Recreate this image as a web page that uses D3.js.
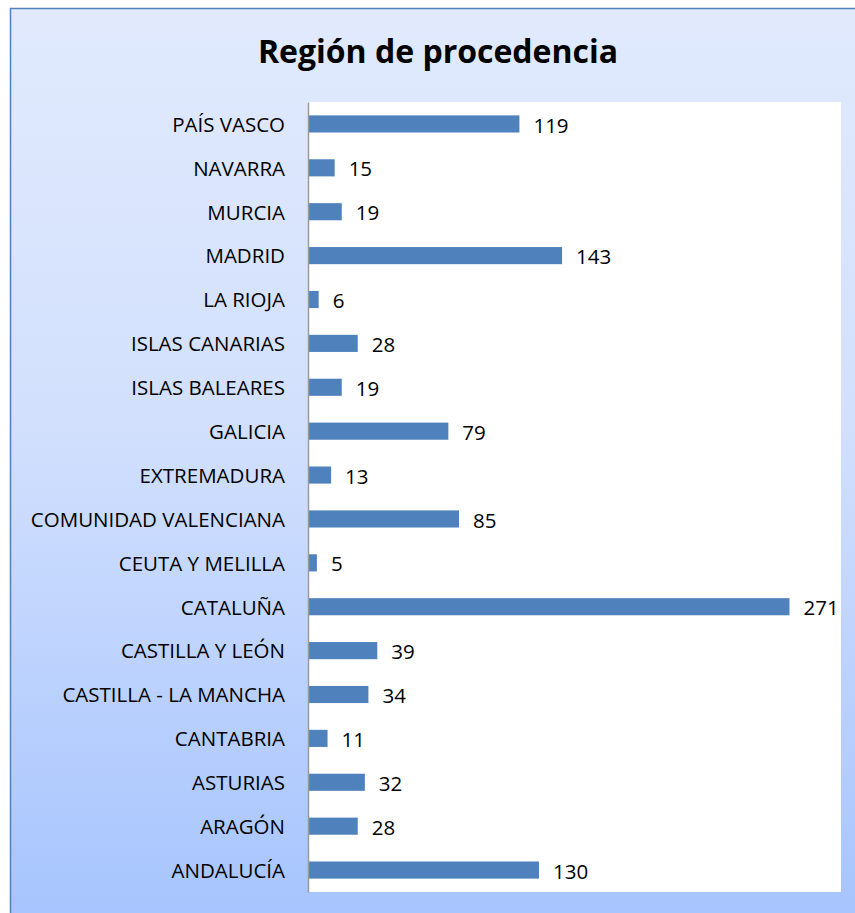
<!DOCTYPE html>
<html>
<head>
<meta charset="utf-8">
<script src="https://cdn.jsdelivr.net/npm/d3@7"></script>
<style>
  body { margin: 0; background: #fff; }
  text { font-family: "Open Sans", "Noto Sans", sans-serif; }
</style>
</head>
<body>
<div id="chart"></div>
<script>
// data, top to bottom as drawn
const regions = ["PAÍS VASCO", "NAVARRA", "MURCIA", "MADRID", "LA RIOJA", "ISLAS CANARIAS",
  "ISLAS BALEARES", "GALICIA", "EXTREMADURA", "COMUNIDAD VALENCIANA", "CEUTA Y MELILLA",
  "CATALUÑA", "CASTILLA Y LEÓN", "CASTILLA - LA MANCHA", "CANTABRIA", "ASTURIAS", "ARAGÓN", "ANDALUCÍA"]
const counts = [119, 15, 19, 143, 6, 28, 19, 79, 13, 85, 5, 271, 39, 34, 11, 32, 28, 130]
const xMax = 300

const WD = 855, HT = 913
const margin = { left: 308, right: 14, top: 102, bottom: 21 }
const width = WD - margin.left - margin.right
const height = HT - margin.top - margin.bottom

var svg = d3.select("#chart")
  .append("svg")
    .attr("width", WD)
    .attr("height", HT)

// background gradient
var grad = svg.append("defs").append("linearGradient")
  .attr("id", "bg").attr("x1", 0).attr("y1", 0).attr("x2", 0).attr("y2", 1)
grad.append("stop").attr("offset", "0%").attr("stop-color", "#e1eafd")
grad.append("stop").attr("offset", "45%").attr("stop-color", "#d2e0fd")
grad.append("stop").attr("offset", "100%").attr("stop-color", "#a6c4fe")

svg.append("rect")
  .attr("x", 10.5).attr("y", 8.5)
  .attr("width", WD).attr("height", HT)
  .attr("fill", "url(#bg)")
  .attr("stroke", "#4f81bd")
  .attr("stroke-width", 1.5)

// title
svg.append("text")
  .attr("x", 438)
  .attr("y", 63)
  .attr("text-anchor", "middle")
  .attr("font-size", "32px")
  .attr("font-weight", "bold")
  .attr("fill", "#000")
  .text("Región de procedencia")

var g = svg.append("g")
  .attr("transform", "translate(" + margin.left + "," + margin.top + ")")

// plot area
g.append("rect")
  .attr("width", width)
  .attr("height", height)
  .attr("fill", "#fff")

const xs = d3.scaleLinear().domain([0, xMax]).range([0, width])
const ys = d3.scaleBand()
  .domain(regions)
  .range([0, height])
  .paddingInner(0.61)
  .paddingOuter(0.305)

g.selectAll(".bar")
  .data(regions)
  .enter()
  .append("rect")
    .attr("class", "bar")
    .attr("x", 0)
    .attr("y", d => ys(d))
    .attr("width", (d, i) => xs(counts[i]))
    .attr("height", ys.bandwidth())
    .attr("fill", "#4f81bd")

// value labels
g.selectAll(".val")
  .data(regions)
  .enter()
  .append("text")
    .attr("class", "val")
    .attr("x", (d, i) => xs(counts[i]) + 14)
    .attr("y", d => ys(d) + ys.bandwidth() / 2)
    .attr("dy", "0.42em")
    .attr("font-size", "20.5px")
    .attr("fill", "#000")
    .text((d, i) => counts[i])

// y axis
var yAxis = g.append("g")
  .call(d3.axisLeft(ys).tickSize(0).tickPadding(23))
yAxis.select(".domain").attr("stroke", "#9a9a9a").attr("stroke-width", 1.5)
yAxis.selectAll("text")
  .attr("font-size", "20.5px")
  .attr("dy", "0.38em")
  .attr("fill", "#000")
  .style("font-family", "'Open Sans', sans-serif")
</script>
</body>
</html>
